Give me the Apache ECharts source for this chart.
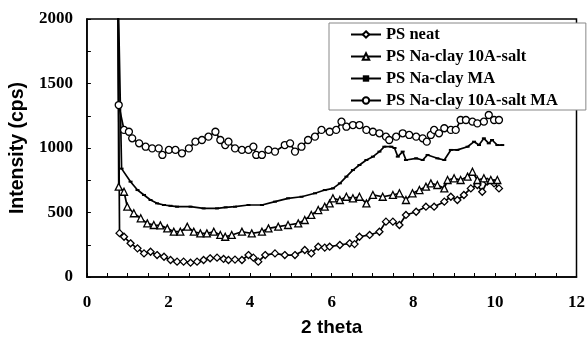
<!DOCTYPE html>
<html><head><meta charset="utf-8">
<script src="https://cdn.jsdelivr.net/npm/echarts@6/dist/echarts.min.js"></script>
<style>html,body{margin:0;padding:0;background:#fff}#c{width:588px;height:343px}</style>
</head><body><div id="c"></div>
<script>
// ---- data ----
const seriesNames = ["PS neat", "PS Na-clay 10A-salt", "PS Na-clay MA", "PS Na-clay 10A-salt MA"];
const xTicks = [0, 2, 4, 6, 8, 10, 12];
const yTicks = [0, 500, 1000, 1500, 2000];

const neatX = [0.76,0.80,0.91,1.07,1.24,1.40,1.56,1.72,1.89,2.05,2.21,2.37,2.54,2.70,2.86,3.02,3.19,3.35,3.47,3.63,3.80,3.96,4.08,4.20,4.37,4.61,4.85,5.10,5.34,5.50,5.67,5.83,5.95,6.20,6.44,6.56,6.68,6.93,7.17,7.33,7.50,7.66,7.82,8.07,8.31,8.51,8.76,8.92,9.08,9.24,9.41,9.57,9.69,9.81,9.98,10.10];
const neatY = [2300,340,312,261,222,183,196,170,157,132,119,119,111,119,132,145,150,140,132,135,132,170,150,119,170,183,170,170,209,183,235,228,235,248,261,255,312,326,351,429,429,403,481,506,545,545,584,622,597,636,687,713,661,739,726,687];

const saltX = [0.76,0.78,0.91,0.99,1.15,1.32,1.48,1.64,1.80,1.97,2.13,2.29,2.46,2.62,2.78,2.94,3.11,3.27,3.39,3.55,3.80,4.04,4.29,4.45,4.69,4.93,5.18,5.34,5.50,5.67,5.83,5.95,6.03,6.20,6.36,6.52,6.68,6.85,7.01,7.25,7.50,7.66,7.82,7.98,8.15,8.31,8.43,8.59,8.76,8.84,9.00,9.16,9.33,9.45,9.57,9.73,9.90,10.06];
const saltY = [2300,700,661,545,494,455,416,403,400,377,351,351,390,351,338,338,351,326,312,326,351,338,351,377,390,403,416,442,481,519,545,571,610,597,622,610,622,571,636,622,636,649,597,649,674,700,726,713,687,752,765,752,778,816,752,765,752,752];

const maX = [0.76,0.85,1.07,1.24,1.40,1.56,1.72,1.89,2.05,2.21,2.54,2.86,3.19,3.40,3.63,3.96,4.29,4.61,4.93,5.26,5.59,5.83,6.03,6.20,6.36,6.52,6.68,6.85,7.01,7.17,7.29,7.46,7.54,7.62,7.74,7.82,8.07,8.23,8.35,8.59,8.76,8.92,9.08,9.33,9.49,9.61,9.73,9.85,9.93,10.06,10.18];
const maY = [2300,840,739,674,636,597,571,558,552,545,545,532,532,540,545,558,558,584,610,622,649,674,687,726,778,829,868,907,933,972,1010,1010,1000,933,972,907,920,907,946,920,907,985,985,1010,1049,1023,1075,1036,1062,1023,1023];

const saltMaX = [0.76,0.78,0.91,1.03,1.11,1.28,1.44,1.60,1.76,1.85,2.01,2.17,2.33,2.50,2.66,2.82,2.98,3.15,3.27,3.39,3.47,3.63,3.80,3.96,4.08,4.15,4.29,4.45,4.61,4.85,4.98,5.10,5.26,5.42,5.59,5.75,5.95,6.11,6.24,6.36,6.52,6.68,6.85,7.01,7.17,7.33,7.41,7.58,7.74,7.90,8.07,8.23,8.33,8.43,8.51,8.63,8.76,8.92,9.04,9.16,9.29,9.45,9.57,9.73,9.85,9.98,10.10];
const saltMaY = [2300,1333,1140,1126,1075,1036,1010,997,997,946,985,985,959,997,1049,1062,1088,1126,1062,1023,1049,997,985,985,1010,946,946,985,972,1023,1036,972,1010,1062,1088,1140,1126,1140,1204,1165,1178,1178,1140,1126,1114,1088,1062,1088,1114,1101,1088,1075,1049,1101,1140,1114,1153,1140,1140,1217,1217,1204,1191,1204,1256,1217,1217];

// ---- build ----
function pairs(xs, ys) {
  return xs.map((x, i) => i === 0 ? { value: [x, ys[i]], symbol: 'none' } : [x, ys[i]]);
}
const serif = '"Liberation Serif", "Times New Roman", serif';
const sans = '"Liberation Sans", Arial, sans-serif';

const base = {
  type: 'line', clip: true, animation: false,
  lineStyle: { color: '#000', width: 1.7 },
  itemStyle: { color: '#fff', borderColor: '#000', borderWidth: 1.3 },
  showAllSymbol: true
};

const chart = echarts.init(document.getElementById('c'), null, { renderer: 'canvas' });
chart.setOption({
  backgroundColor: '#fff',
  animation: false,
  grid: { left: 86, right: 10, top: 19, bottom: 66, show: true, borderColor: '#000', borderWidth: 1.5, backgroundColor: 'transparent' },
  legend: {
    orient: 'vertical', left: 329, top: 23,
    itemWidth: 30, itemHeight: 8, itemGap: 5,
    padding: [3, 28, 1, 21],
    borderColor: '#888', borderWidth: 1, backgroundColor: '#fff',
    textStyle: { fontFamily: serif, fontWeight: 'bold', fontSize: 16.5, color: '#000' },
    data: seriesNames
  },
  xAxis: {
    type: 'value', min: xTicks[0], max: xTicks[xTicks.length - 1], interval: 2,
    name: '2 theta', nameLocation: 'middle', nameGap: 41,
    nameTextStyle: { fontFamily: sans, fontWeight: 'bold', fontSize: 19, color: '#000' },
    axisLine: { show: true, lineStyle: { color: '#000', width: 1.5 } },
    axisTick: { show: true, inside: true, length: 4, lineStyle: { color: '#000' } },
    minorTick: { show: true, splitNumber: 4, length: 4, lineStyle: { color: '#000' } },
    splitLine: { show: false },
    axisLabel: { fontFamily: serif, fontWeight: 'bold', fontSize: 17, color: '#000', margin: 17 }
  },
  yAxis: {
    type: 'value', min: yTicks[0], max: yTicks[yTicks.length - 1], interval: 500,
    name: 'Intensity (cps)', nameLocation: 'middle', nameGap: 54,
    nameTextStyle: { fontFamily: sans, fontWeight: 'bold', fontSize: 19.5, color: '#000' },
    axisLine: { show: true, lineStyle: { color: '#000', width: 1.5 } },
    axisTick: { show: true, inside: true, length: 4, lineStyle: { color: '#000' } },
    minorTick: { show: true, splitNumber: 2, length: 4, lineStyle: { color: '#000' } },
    splitLine: { show: false },
    axisLabel: { fontFamily: serif, fontWeight: 'bold', fontSize: 17, color: '#000', margin: 14, formatter: v => String(v) }
  },
  series: [
    Object.assign({}, base, { name: seriesNames[0], symbol: 'diamond', symbolSize: 7, data: pairs(neatX, neatY) }),
    Object.assign({}, base, { name: seriesNames[1], symbol: 'triangle', symbolSize: 7, data: pairs(saltX, saltY) }),
    Object.assign({}, base, { name: seriesNames[2], symbol: 'rect', symbolSize: [4, 2], itemStyle: { color: '#000', borderColor: '#000', borderWidth: 0 }, data: pairs(maX, maY) }),
    Object.assign({}, base, { name: seriesNames[3], symbol: 'circle', symbolSize: 7, data: pairs(saltMaX, saltMaY) })
  ]
});
</script></body></html>
